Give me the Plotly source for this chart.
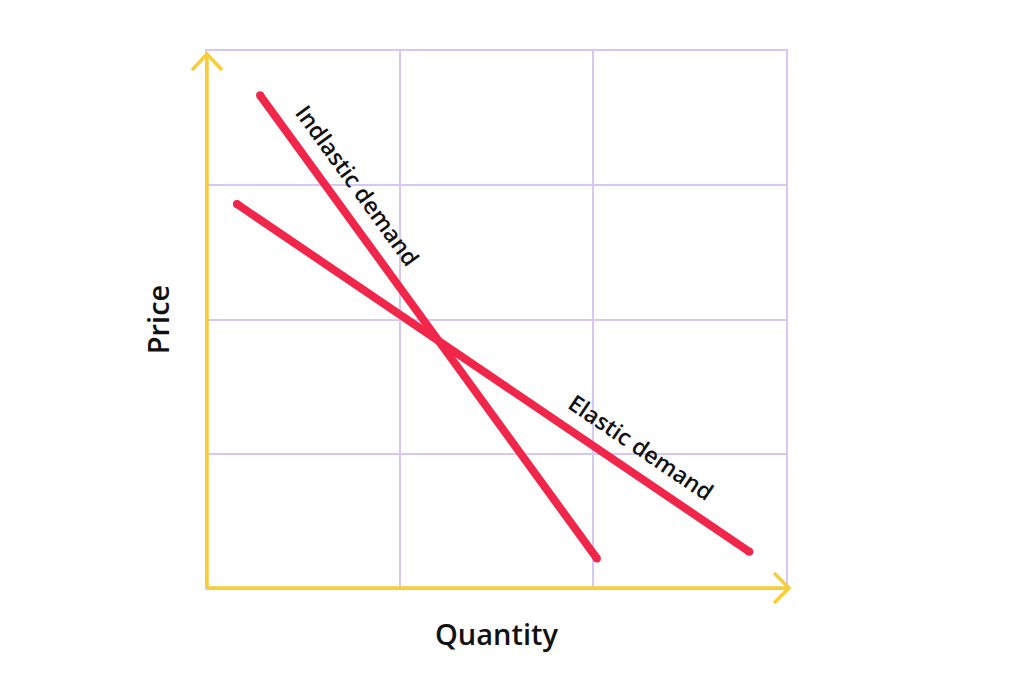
import plotly.graph_objects as go

# Data (axes 0..3 quantity, 0..4 price)
inelastic_q = [0.275, 2.02]
inelastic_p = [3.67, 0.22]
elastic_q = [0.155, 2.81]
elastic_p = [2.86, 0.27]
label_inelastic = "Indlastic demand"
label_elastic = "Elastic demand"
x_title = "Quantity"
y_title = "Price"

RED = "#F0264A"
YELLOW = "#F7CD3A"
GRID = "#D6C8F2"

W, H = 1024, 677
PW, PH = 579, 537
ML, MT = 199, 43
MR, MB = W - ML - PW, H - MT - PH

fig = go.Figure()
for q, p in [(inelastic_q, inelastic_p), (elastic_q, elastic_p)]:
    fig.add_trace(go.Scatter(
        x=q, y=p, mode="lines+markers",
        line=dict(color=RED, width=8),
        marker=dict(color=RED, size=8),
        hoverinfo="skip", showlegend=False,
    ))

font_family = "Open Sans, Lato, sans-serif"
fig.add_annotation(x=0.78, y=3.0, text=label_inelastic, showarrow=False,
                   textangle=54, font=dict(family=font_family, size=23, color="#111", weight=600))
fig.add_annotation(x=2.25, y=1.05, text=label_elastic, showarrow=False,
                   textangle=34, font=dict(family=font_family, size=23, color="#111", weight=600))

def px_x(p):
    return p / PW

def px_y(p):
    return p / PH

shapes = []
shapes.append(dict(type="line", xref="paper", yref="paper", x0=0, y0=0, x1=0, y1=1 - px_y(3),
                   line=dict(color=YELLOW, width=3.5), layer="above"))
shapes.append(dict(type="line", xref="paper", yref="paper", x0=0, y0=0, x1=1 + px_x(3), y1=0,
                   line=dict(color=YELLOW, width=3.5), layer="above"))
ty = 1 - px_y(3)
shapes.append(dict(type="path", xref="paper", yref="paper",
                   path=f"M {-px_x(15)} {ty - px_y(16)} L 0 {ty} L {px_x(15)} {ty - px_y(16)}",
                   line=dict(color=YELLOW, width=3.5), layer="above"))
tx = 1 + px_x(3)
shapes.append(dict(type="path", xref="paper", yref="paper",
                   path=f"M {tx - px_x(15)} {px_y(15)} L {tx} 0 L {tx - px_x(15)} {-px_y(15)}",
                   line=dict(color=YELLOW, width=3.5), layer="above"))

fig.update_layout(
    width=W, height=H,
    margin=dict(l=ML, r=MR, t=MT, b=MB),
    paper_bgcolor="white", plot_bgcolor="white",
    shapes=shapes,
    xaxis=dict(range=[0, 3], tickvals=[0, 1, 2, 3], showticklabels=False, ticks="",
               showgrid=True, gridcolor=GRID, gridwidth=2, zeroline=False,
               showline=True, linecolor=GRID, linewidth=2, mirror=True,
               title=dict(text=x_title, standoff=36,
                          font=dict(family=font_family, size=29, color="#111", weight=600))),
    yaxis=dict(range=[0, 4], tickvals=[0, 1, 2, 3, 4], showticklabels=False, ticks="",
               showgrid=True, gridcolor=GRID, gridwidth=2, zeroline=False,
               showline=True, linecolor=GRID, linewidth=2, mirror=True,
               title=dict(text=y_title, standoff=27,
                          font=dict(family=font_family, size=29, color="#111", weight=600))),
)

fig.write_html("out.html")
